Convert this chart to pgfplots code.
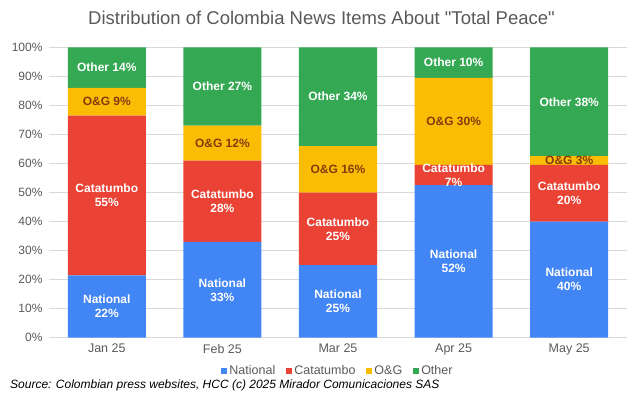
\documentclass[border=0pt]{standalone}
\usepackage{pgfplots}
\pgfplotsset{compat=1.18}
\usepackage{fontspec}
\setmainfont{Liberation Sans}
\newfontfamily\titlefont{Liberation Sans}[Ligatures=TeXOff]
\definecolor{cNat}{HTML}{4285F4}
\definecolor{cCat}{HTML}{EA4335}
\definecolor{cOG}{HTML}{FBBC04}
\definecolor{cOth}{HTML}{34A853}
\definecolor{txtgray}{HTML}{595959}
\definecolor{gridgray}{HTML}{D9D9D9}
\definecolor{ogtxt}{HTML}{843C0C}
\begin{document}
\begin{tikzpicture}
\path[use as bounding box] (0,0) rectangle (643pt,397pt);
\pgfplotsset{
  base/.style={
    at={(49pt,59.3pt)}, anchor=south west,
    scale only axis, width=578pt, height=290.4pt,
    xmin=-0.5, xmax=4.5, ymin=0, ymax=100,
  },
  lab/.style={draw=none, mark=none, nodes near coords, point meta=explicit symbolic,
    nodes near coords style={anchor=center, align=center, font=\fontsize{12}{14}\selectfont\bfseries, text=#1}},
}
\begin{axis}[base,
  ybar stacked, bar width=78pt,
  axis line style={draw=none},
  tick style={draw=none},
  ymajorgrids, major grid style={gridgray, line width=0.8pt},
  ytick={0,10,...,100},
  yticklabel={\pgfmathprintnumber{\tick}\%},
  /pgf/number format/assume math mode=true,
  yticklabel style={font=\fontsize{12}{13}\selectfont, text=txtgray, xshift=-3pt},
  xtick={0,1,2,3,4},
  xticklabels={Jan 25,Feb 25,Mar 25,Apr 25,May 25},
  xticklabel style={font=\fontsize{12.5}{13}\selectfont, text=txtgray, yshift=-3pt},
  legend style={at={(0.5,-0.1147)}, anchor=center, draw=none, fill=none,
    legend columns=4, font=\fontsize{12.5}{13}\selectfont, text=txtgray,
    /tikz/every even column/.append style={column sep=9pt}},
  legend image code/.code={\fill[#1] (1pt,-3pt) rectangle (7pt,3pt);},
]
\addplot[fill=cNat, draw=none] coordinates {(0,21.5) (1,33) (2,25) (3,52.5) (4,40)};
\addplot[fill=cCat, draw=none] coordinates {(0,55) (1,28) (2,25) (3,7) (4,19.5)};
\addplot[fill=cOG, draw=none] coordinates {(0,9.5) (1,12) (2,16) (3,30) (4,3)};
\addplot[fill=cOth, draw=none] coordinates {(0,14) (1,27) (2,34) (3,10.5) (4,37.5)};
\legend{National,Catatumbo,O\&G,Other}
\end{axis}
\begin{axis}[base, hide axis, clip=false]
\addplot[lab=white] coordinates {(0,10.75) [National\\22\%] (1,16.5) [National\\33\%] (2,12.5) [National\\25\%] (3,26.25) [National\\52\%] (4,20) [National\\40\%]};
\addplot[lab=white] coordinates {(0,49) [Catatumbo\\55\%] (1,47) [Catatumbo\\28\%] (2,37.5) [Catatumbo\\25\%] (3,56) [Catatumbo\\7\%] (4,49.75) [Catatumbo\\20\%]};
\addplot[lab=ogtxt] coordinates {(0,81.25) [O\&G 9\%] (1,67) [O\&G 12\%] (2,58) [O\&G 16\%] (3,74.5) [O\&G 30\%] (4,61) [O\&G 3\%]};
\addplot[lab=white] coordinates {(0,93) [Other 14\%] (1,86.5) [Other 27\%] (2,83) [Other 34\%] (3,94.75) [Other 10\%] (4,81.25) [Other 38\%]};
\end{axis}
\node[text=txtgray, font=\fontsize{18.5}{20}\selectfont\titlefont] at (321.5pt,379pt) {Distribution of Colombia News Items About "Total Peace"};
\node[anchor=west, font=\fontsize{12}{13}\selectfont\itshape, inner sep=0pt] at (10pt,11.5pt) {Source: Colombian press websites, HCC (c) 2025 Mirador Comunicaciones SAS};
\end{tikzpicture}
\end{document}
